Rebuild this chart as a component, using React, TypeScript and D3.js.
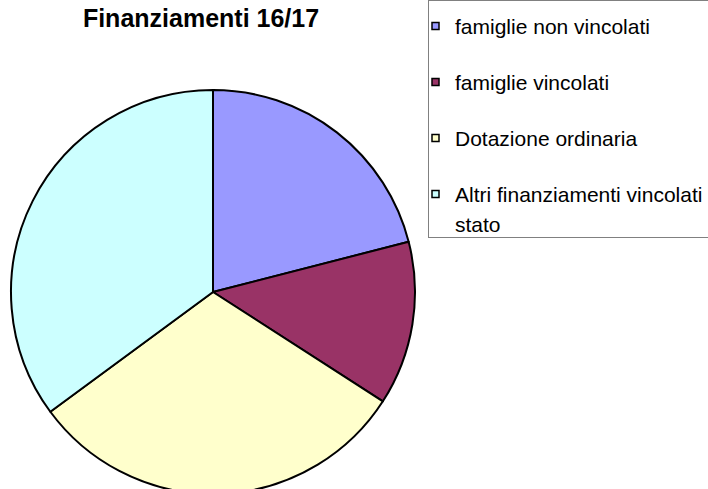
import React from "react";
import * as d3 from "d3";

const categories = [
  "famiglie non vincolati",
  "famiglie vincolati",
  "Dotazione ordinaria",
  "Altri finanziamenti vincolati stato",
];
const values = [21.0, 13.1, 30.8, 35.1];
const colors = ["#9999FF", "#993366", "#FFFFCC", "#CCFFFF"];
const legendLines = [
  ["famiglie non vincolati"],
  ["famiglie vincolati"],
  ["Dotazione ordinaria"],
  ["Altri finanziamenti vincolati", "stato"],
];
const title = "Finanziamenti 16/17";

export default function App() {
  const W = 708, H = 489;
  const cx = 213, cy = 292, r = 202;
  const pie = d3.pie<number>().sort(null).value((d) => d)(values);
  const arc = d3.arc<d3.PieArcDatum<number>>().innerRadius(0).outerRadius(r);
  const font = "'Liberation Sans', Arial, sans-serif";
  return (
    <svg width={W} height={H} style={{ position: "fixed", left: 0, top: 0 }}>
      <rect width={W} height={H} fill="#fff" />
      <text x={201} y={27} textAnchor="middle" fontFamily={font} fontWeight="bold" fontSize={25} fill="#000">
        {title}
      </text>
      <g transform={`translate(${cx},${cy})`}>
        {pie.map((p, i) => (
          <path key={categories[i]} d={arc(p) || ""} fill={colors[i]} stroke="#000" strokeWidth={2} strokeLinejoin="round" />
        ))}
      </g>
      <rect x={428.5} y={0.5} width={300} height={237} fill="#fff" stroke="#808080" strokeWidth={1} />
      {legendLines.map((lines, i) => {
        const y0 = 26 + i * 56;
        return (
          <g key={i}>
            <rect x={432} y={y0 - 3.5} width={7} height={7} fill={colors[i]} stroke="#000" strokeWidth={1.5} />
            {lines.map((t, j) => (
              <text key={j} x={455} y={y0 + 8 + j * 30} fontFamily={font} fontSize={21} fill="#000">
                {t}
              </text>
            ))}
          </g>
        );
      })}
    </svg>
  );
}
